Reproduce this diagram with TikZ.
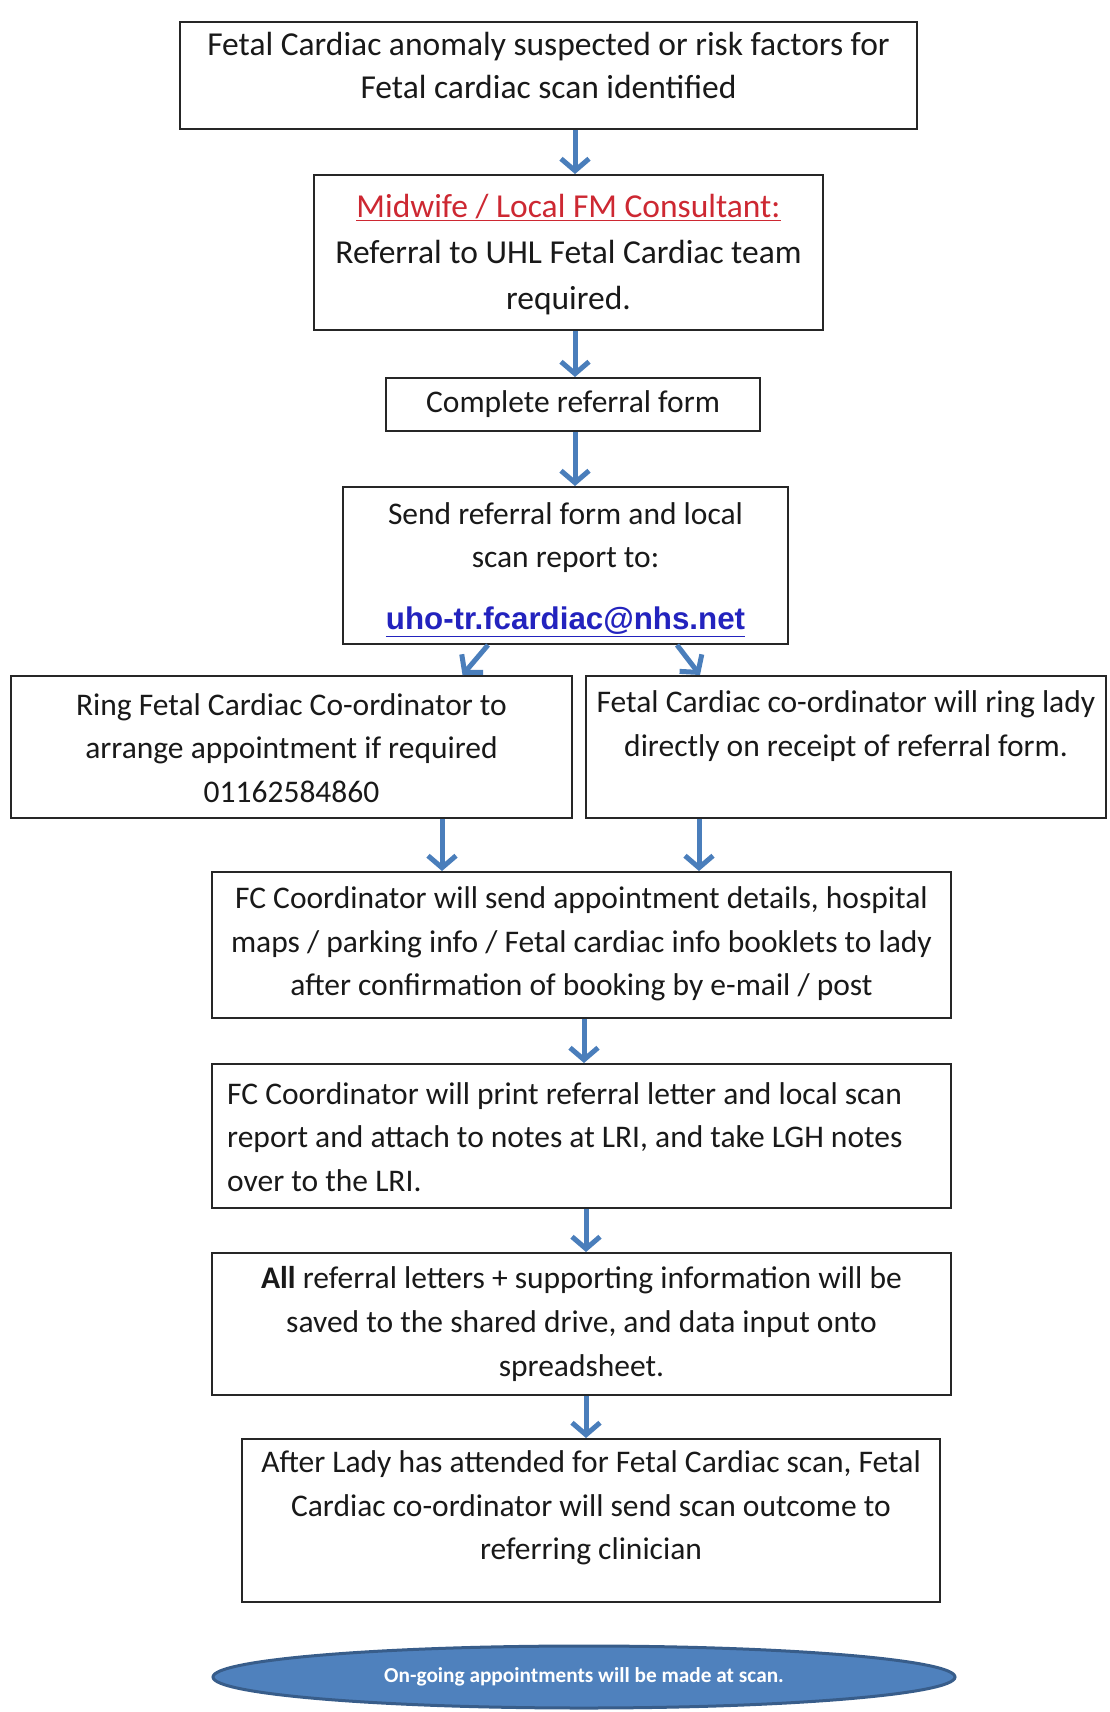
\documentclass[tikz,border=0pt]{standalone}
\usepackage{fontspec}
\setmainfont{Carlito}
\newfontfamily\arialfont{Liberation Sans}
\usetikzlibrary{arrows.meta,shapes.geometric}
\definecolor{arrblue}{RGB}{74,126,187}
\definecolor{midred}{RGB}{205,40,50}
\definecolor{mailblue}{RGB}{35,35,190}
\definecolor{ellblue}{RGB}{79,129,189}
\definecolor{elledge}{RGB}{56,93,138}
\tikzset{
  boxnode/.style={draw=black!85,line width=2pt,inner sep=0pt,rectangle},
  txt/.style={font=\fontsize{31.5}{43.7}\selectfont,align=center,inner sep=0pt,text=black!90},
  bigtxt/.style={txt,font=\fontsize{33.5}{43.7}\selectfont},
  arr/.style={draw=arrblue,line width=5pt,-{Straight Barb[length=12pt,width=28pt,line width=5pt]}}
}
\begin{document}
\begin{tikzpicture}[x=1pt,y=-1pt]
\useasboundingbox[fill=white] (0,0) rectangle (1109,1712);
% boxes
\node[boxnode,minimum width=737,minimum height=107] (b1) at (548.5,75.5) {};
\node[boxnode,minimum width=509,minimum height=155] (b2) at (568.5,252.5) {};
\node[boxnode,minimum width=374,minimum height=53] (b3) at (573,404.5) {};
\node[boxnode,minimum width=445,minimum height=157] (b4) at (565.5,565.5) {};
\node[boxnode,minimum width=561,minimum height=142] (b5L) at (291.5,747) {};
\node[boxnode,minimum width=520,minimum height=142] (b5R) at (846,747) {};
\node[boxnode,minimum width=739,minimum height=146] (b6) at (581.5,945) {};
\node[boxnode,minimum width=739,minimum height=144] (b7) at (581.5,1136) {};
\node[boxnode,minimum width=739,minimum height=142] (b8) at (581.5,1324) {};
\node[boxnode,minimum width=698,minimum height=163] (b9) at (591,1520.5) {};
\node[ellipse,fill=ellblue,draw=elledge,line width=3pt,minimum width=742,minimum height=62,inner sep=0pt,
      font=\bfseries\fontsize{21.3}{24}\selectfont,text=white] (el) at (584,1677) {On-going appointments will be made at scan.};
% texts
\node[bigtxt] (t1) at (548.5,65.5) {Fetal Cardiac anomaly suspected or risk factors for\\Fetal cardiac scan identified};
\node[bigtxt,font=\fontsize{33.5}{46}\selectfont] (t2) at (568.5,254.5) {\textcolor{midred}{\underline{Midwife / Local FM Consultant:}}\\Referral to UHL Fetal Cardiac team\\required.};
\node[txt] (t3) at (573,404) {Complete referral form};
\node[txt] (t4) at (565.5,537.5) {Send referral form and local\\scan report to:};
\node[inner sep=0pt,font=\arialfont\bfseries\fontsize{31.3}{34}\selectfont,text=mailblue] (t4m) at (565.5,622) {\underline{uho-tr.fcardiac@nhs.net}};
\node[txt] (t5L) at (291.5,748) {Ring Fetal Cardiac Co-ordinator to\\arrange appointment if required\\01162584860};
\node[txt] (t5R) at (846,726) {Fetal Cardiac co-ordinator will ring lady\\directly on receipt of referral form.};
\node[txt] (t6) at (581.5,944) {FC Coordinator will send appointment details, hospital\\maps / parking info / Fetal cardiac info booklets to lady\\after confirmation of booking by e-mail / post};
\node[txt,align=left,anchor=west] (t7) at (227,1137) {FC Coordinator will print referral letter and local scan\\report and attach to notes at LRI, and take LGH notes\\over to the LRI.};
\node[txt] (t8) at (581.5,1324) {\textbf{All} referral letters + supporting information will be\\saved to the shared drive, and data input onto\\spreadsheet.};
\node[txt] (t9) at (591,1508) {After Lady has attended for Fetal Cardiac scan, Fetal\\Cardiac co-ordinator will send scan outcome to\\referring clinician};
% connectors
\draw[arr] ([xshift=26.5]b1.south) -- ([xshift=6.5]b2.north);
\draw[arr] ([xshift=6.5]b2.south) -- ([xshift=2]b3.north);
\draw[arr] ([xshift=2]b3.south) -- ([xshift=9.5]b4.north);
\draw[arr] ([xshift=-77.5]b4.south) -- ([xshift=171]b5L.north);
\draw[arr] ([xshift=111.5]b4.south) -- ([xshift=-146]b5R.north);
\draw[arr] ([xshift=150.5]b5L.south) -- ([xshift=-139.5]b6.north);
\draw[arr] ([xshift=-147]b5R.south) -- ([xshift=117.5]b6.north);
\draw[arr] ([xshift=2.5]b6.south) -- ([xshift=2.5]b7.north);
\draw[arr] ([xshift=4.5]b7.south) -- ([xshift=4.5]b8.north);
\draw[arr] ([xshift=4.5]b8.south) -- ([xshift=-5]b9.north);
\end{tikzpicture}
\end{document}
